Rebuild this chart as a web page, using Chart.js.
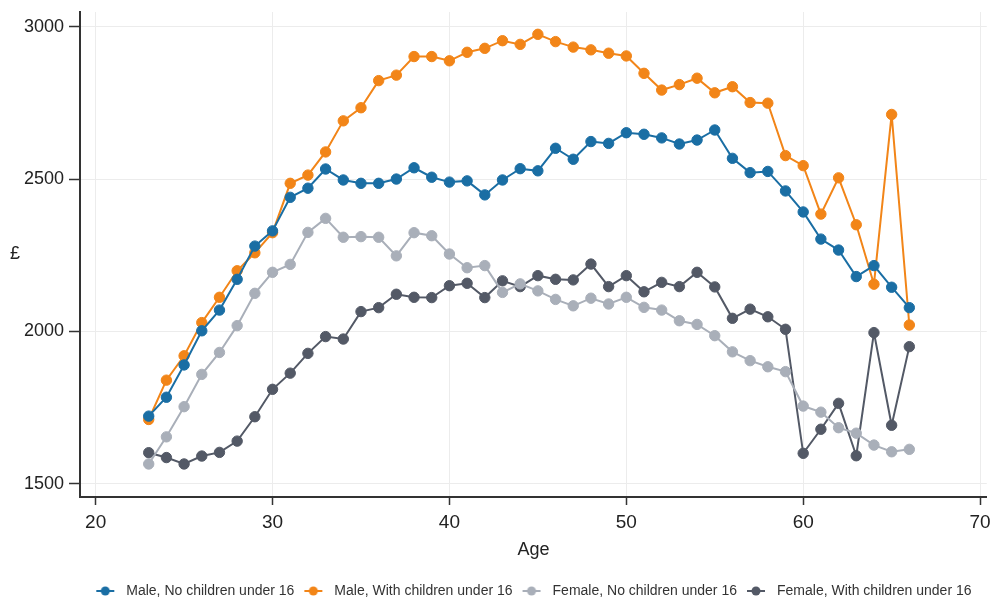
<!DOCTYPE html>
<html>
<head>
<meta charset="utf-8">
<script src="https://cdn.jsdelivr.net/npm/chart.js@4.4.0/dist/chart.umd.min.js"></script>
<style>
  html, body { margin: 0; padding: 0; background: #ffffff; }
  #wrap { width: 993px; height: 601px; }
</style>
</head>
<body>
<div id="wrap"><canvas id="c" width="993" height="601"></canvas></div>
<script>
// Average monthly earnings (£) by age, split by sex and presence of children under 16
const ages = [23, 24, 25, 26, 27, 28, 29, 30, 31, 32, 33, 34, 35, 36, 37, 38, 39, 40, 41, 42, 43, 44,
              45, 46, 47, 48, 49, 50, 51, 52, 53, 54, 55, 56, 57, 58, 59, 60, 61, 62, 63, 64, 65, 66];

const maleNoChildren = [1722, 1784, 1890, 2002, 2070, 2171, 2280, 2330, 2440, 2470, 2533, 2497, 2486, 2486,
                        2500, 2537, 2506, 2490, 2494, 2448, 2497, 2534, 2527, 2601, 2565, 2623, 2617, 2652,
                        2647, 2635, 2615, 2628, 2661, 2568, 2521, 2525, 2461, 2392, 2303, 2267, 2180, 2216,
                        2145, 2078];

const maleWithChildren = [1711, 1840, 1920, 2029, 2112, 2199, 2258, 2324, 2486, 2513, 2589, 2691, 2734, 2823,
                          2841, 2902, 2902, 2888, 2916, 2929, 2954, 2942, 2975, 2951, 2933, 2924, 2913, 2904,
                          2847, 2792, 2810, 2831, 2783, 2803, 2751, 2749, 2577, 2544, 2385, 2504, 2350, 2155,
                          2712, 2021];

const femaleNoChildren = [1565, 1654, 1753, 1859, 1931, 2019, 2125, 2194, 2220, 2325, 2371, 2309, 2311, 2309,
                          2248, 2324, 2314, 2254, 2209, 2216, 2128, 2156, 2133, 2105, 2084, 2109, 2090, 2112,
                          2079, 2070, 2035, 2023, 1986, 1933, 1904, 1884, 1868, 1755, 1735, 1684, 1666, 1627,
                          1605, 1613];

const femaleWithChildren = [1602, 1586, 1565, 1591, 1603, 1640, 1720, 1810, 1863, 1928, 1983, 1975, 2065, 2078,
                            2122, 2112, 2111, 2150, 2158, 2111, 2166, 2147, 2183, 2171, 2169, 2221, 2147, 2183,
                            2130, 2161, 2147, 2194, 2146, 2043, 2073, 2048, 2007, 1600, 1679, 1764, 1592, 1996,
                            1692, 1950];

const seriesNames = ['Male, No children under 16', 'Male, With children under 16',
                     'Female, No children under 16', 'Female, With children under 16'];
const seriesValues = [maleNoChildren, maleWithChildren, femaleNoChildren, femaleWithChildren];
const seriesColors = ['#1a6ea4', '#f28518', '#a9afb9', '#535966'];

const xTickValues = [20, 30, 40, 50, 60, 70];
const yTickValues = [1500, 2000, 2500, 3000];
const yAxisLabel = '£';
const xAxisLabel = 'Age';

// Small line-with-dot swatch used as the legend symbol
function legendSwatch(color) {
  const cv = document.createElement('canvas');
  cv.width = 24; cv.height = 12;
  const g = cv.getContext('2d');
  g.strokeStyle = color; g.lineWidth = 2;
  g.beginPath(); g.moveTo(1, 6); g.lineTo(19, 6); g.stroke();
  g.fillStyle = color;
  g.beginPath(); g.arc(10, 6, 4.5, 0, Math.PI * 2); g.fill();
  return cv;
}
const swatches = seriesColors.map(legendSwatch);

const datasets = seriesValues.map((vals, i) => ({
  label: seriesNames[i],
  data: ages.map((a, j) => ({ x: a, y: vals[j] })),
  borderColor: seriesColors[i],
  backgroundColor: seriesColors[i],
  pointBackgroundColor: seriesColors[i],
  pointBorderColor: seriesColors[i],
  borderWidth: 2,
  pointRadius: 5.2,
  pointBorderWidth: 1,
  tension: 0,
  fill: false
}));

const textColor = '#222222';
const axisColor = '#333333';
const gridColor = '#ececec';

// Horizontal "£" caption beside the value axis
const yCaption = {
  id: 'yCaption',
  afterDraw(chart) {
    const { ctx, chartArea } = chart;
    ctx.save();
    ctx.fillStyle = textColor;
    ctx.font = '18px "Liberation Sans", Arial, sans-serif';
    ctx.textAlign = 'center';
    ctx.textBaseline = 'middle';
    ctx.fillText(yAxisLabel, 15, (chartArea.top + chartArea.bottom) / 2);
    ctx.restore();
  }
};

new Chart(document.getElementById('c'), {
  type: 'line',
  data: { datasets },
  plugins: [yCaption],
  options: {
    responsive: false,
    animation: false,
    devicePixelRatio: 1,
    layout: { padding: { left: 0, right: 3, top: 12, bottom: -7 } },
    plugins: {
      tooltip: { enabled: false },
      legend: {
        display: true,
        position: 'bottom',
        align: 'center',
        fullSize: false,
        labels: {
          usePointStyle: true,
          pointStyleWidth: 24,
          padding: 9,
          color: '#333333',
          font: { family: '"Liberation Sans", Arial, sans-serif', size: 14 },
          generateLabels: (chart) => chart.data.datasets.map((ds, i) => ({
            text: ds.label,
            pointStyle: swatches[i],
            fillStyle: ds.borderColor,
            strokeStyle: ds.borderColor,
            lineWidth: 0,
            hidden: false,
            datasetIndex: i,
            fontColor: '#333333'
          }))
        }
      }
    },
    scales: {
      x: {
        type: 'linear',
        min: 19.115,
        max: 70.38,
        offset: false,
        afterBuildTicks: (scale) => { scale.ticks = xTickValues.map(v => ({ value: v })); },
        afterFit: (scale) => { scale.height = 78; scale.paddingLeft = 0; scale.paddingRight = 0; },
        ticks: {
          color: textColor,
          padding: 6,
          font: { family: '"Liberation Sans", Arial, sans-serif', size: 19 }
        },
        grid: {
          color: gridColor,
          lineWidth: 1,
          drawTicks: true,
          tickLength: 8,
          tickColor: axisColor,
          tickWidth: 1.5
        },
        border: { display: true, color: axisColor, width: 2 },
        title: {
          display: true,
          text: xAxisLabel,
          color: textColor,
          padding: { top: 0, bottom: 14 },
          font: { family: '"Liberation Sans", Arial, sans-serif', size: 18 }
        }
      },
      y: {
        type: 'linear',
        min: 1456.6,
        max: 3048.2,
        afterBuildTicks: (scale) => { scale.ticks = yTickValues.map(v => ({ value: v })); },
        afterFit: (scale) => { scale.width = 80; scale.paddingTop = 0; scale.paddingBottom = 0; },
        ticks: {
          color: textColor,
          padding: 5,
          font: { family: '"Liberation Sans", Arial, sans-serif', size: 18 },
          callback: (v) => String(v)
        },
        grid: {
          color: gridColor,
          lineWidth: 1,
          drawTicks: true,
          tickLength: 11,
          tickColor: axisColor,
          tickWidth: 1.5
        },
        border: { display: true, color: axisColor, width: 2 }
      }
    }
  }
});
</script>
</body>
</html>
